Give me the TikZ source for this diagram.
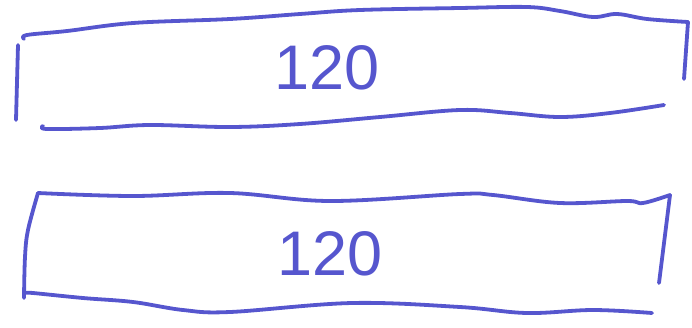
\documentclass[tikz,border=0pt]{standalone}
\usepackage{fontspec}
\setmainfont{Liberation Sans}
\definecolor{ink}{RGB}{86,86,206}
\begin{document}
\begin{tikzpicture}[x=1pt, y=-1pt, line cap=round, line join=round]
	\tikzset{pen/.style={ink, line width=3.8pt}, num/.style={ink, font=\fontsize{63}{63}\selectfont, inner sep=0pt}}
	\useasboundingbox (0,0) rectangle (692,327);
	% upper bar
	\draw[pen] plot[smooth, tension=0.6] coordinates {(24,39) (27,35) (67,31) (133,23) (230,19) (300,14) (360,10) (460,8) (527,7) (560,11) (593,17) (617,14) (647,19) (688,22)};
	\draw[pen] (18,45) -- (16,120);
	\draw[pen] (688,22) -- (684,79);
	\draw[pen] plot[smooth, tension=0.6] coordinates {(43,126) (47,129) (100,128) (150,125) (230,127) (300,124) (380,117) (460,110) (510,113) (560,117) (610,113) (664,105)};
	\node[num] (top) at (327,68) {120};
	% lower bar
	\draw[pen] plot[smooth, tension=0.6] coordinates {(38,193) (133,196) (230,193) (330,201) (460,194) (493,195) (560,203) (627,201) (643,203) (670,195)};
	\draw[pen] (670,195) -- (659,283);
	\draw[pen] plot[smooth, tension=0.6] coordinates {(38,193) (28,230) (25,257) (24,298)};
	\draw[pen] plot[smooth, tension=0.6] coordinates {(27,293) (33,293) (83,298) (133,302) (183,310) (230,312) (352,303) (460,307) (527,313) (593,310) (652,313)};
	\node[num] (bottom) at (330,254) {120};
\end{tikzpicture}
\end{document}
